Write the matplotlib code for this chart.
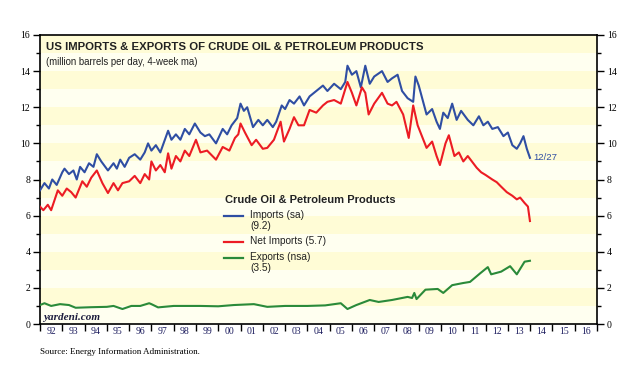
import matplotlib
matplotlib.use("Agg")
import matplotlib.pyplot as plt
import numpy as np

# weekly series (decimal year, million barrels per day)
imports_t = [1992.0, 1992.2, 1992.4, 1992.55, 1992.75, 1993.0, 1993.1, 1993.3, 1993.5, 1993.65,
             1993.8, 1994.0, 1994.2, 1994.4, 1994.55, 1994.75, 1995.05, 1995.3, 1995.45, 1995.6,
             1995.8, 1996.0, 1996.25, 1996.5, 1996.7, 1996.85, 1997.0, 1997.2, 1997.4, 1997.75,
             1997.9, 1998.1, 1998.3, 1998.5, 1998.7, 1998.95, 1999.2, 1999.4, 1999.6, 1999.9,
             2000.2, 2000.4, 2000.6, 2000.85, 2001.0, 2001.15, 2001.3, 2001.56, 2001.8, 2002.0,
             2002.2, 2002.45, 2002.6, 2002.85, 2003.0, 2003.2, 2003.4, 2003.65, 2003.85, 2004.1,
             2004.4, 2004.7, 2004.9, 2005.2, 2005.5, 2005.7, 2005.8, 2006.0, 2006.2, 2006.4,
             2006.6, 2006.8, 2007.0, 2007.35, 2007.6, 2007.8, 2008.05, 2008.25, 2008.5, 2008.75,
             2008.85, 2009.0, 2009.35, 2009.6, 2009.8, 2009.95, 2010.1, 2010.3, 2010.5, 2010.7,
             2010.9, 2011.2, 2011.45, 2011.7, 2011.9, 2012.1, 2012.3, 2012.55, 2012.8, 2013.0,
             2013.2, 2013.4, 2013.55, 2013.7, 2013.85, 2013.99]
imports_v = [7.4, 7.8, 7.5, 8.0, 7.7, 8.4, 8.6, 8.3, 8.5, 8.0,
             8.7, 8.4, 8.9, 8.7, 9.4, 9.0, 8.5, 8.9, 8.6, 9.1,
             8.7, 9.2, 9.4, 9.1, 9.5, 10.0, 9.6, 9.9, 9.5, 10.7,
             10.2, 10.5, 10.2, 10.8, 10.5, 11.1, 10.6, 10.4, 10.5, 10.0,
             10.8, 10.5, 11.0, 11.4, 12.2, 11.8, 12.0, 10.9, 11.3, 11.0,
             11.3, 10.9, 11.2, 12.1, 11.9, 12.4, 12.2, 12.6, 12.1, 12.6,
             12.9, 13.2, 12.9, 13.3, 13.0, 13.4, 14.3, 13.8, 14.0, 13.1,
             14.3, 13.3, 13.7, 14.0, 13.4, 13.6, 13.8, 12.9, 12.5, 12.3,
             13.7, 13.2, 11.6, 11.9, 11.2, 10.8, 11.7, 11.4, 12.2, 11.3,
             11.8, 11.3, 11.0, 11.5, 11.0, 11.2, 10.8, 10.9, 10.4, 10.6,
             9.9, 9.7, 10.0, 10.4, 9.7, 9.2]

net_t = [1992.0, 1992.15, 1992.35, 1992.5, 1992.8, 1993.0, 1993.2, 1993.4, 1993.6, 1993.9,
         1994.1, 1994.3, 1994.55, 1994.8, 1995.05, 1995.3, 1995.5, 1995.7, 1996.0, 1996.25,
         1996.5, 1996.7, 1996.9, 1997.0, 1997.2, 1997.4, 1997.6, 1997.75, 1997.9, 1998.1,
         1998.3, 1998.5, 1998.7, 1999.0, 1999.2, 1999.5, 1999.9, 2000.2, 2000.5, 2000.75,
         2000.9, 2001.0, 2001.2, 2001.5, 2001.7, 2002.0, 2002.2, 2002.5, 2002.8, 2002.95,
         2003.2, 2003.4, 2003.6, 2003.85, 2004.1, 2004.4, 2004.7, 2004.9, 2005.2, 2005.5,
         2005.8, 2006.0, 2006.2, 2006.45, 2006.6, 2006.75, 2007.0, 2007.35, 2007.6, 2007.8,
         2008.0, 2008.3, 2008.55, 2008.75, 2008.95, 2009.35, 2009.6, 2009.8, 2009.95, 2010.2,
         2010.35, 2010.6, 2010.8, 2011.0, 2011.2, 2011.6, 2011.8, 2012.0, 2012.3, 2012.5,
         2012.7, 2012.95, 2013.2, 2013.4, 2013.55, 2013.75, 2013.9, 2013.99]
net_v = [6.5, 6.3, 6.6, 6.3, 7.4, 7.1, 7.5, 7.3, 7.0, 7.9,
         7.6, 8.1, 8.5, 7.8, 7.25, 7.8, 7.4, 7.8, 7.9, 8.2,
         7.8, 8.3, 8.0, 9.0, 8.5, 8.8, 8.4, 9.45, 8.6, 9.3,
         9.0, 9.6, 9.3, 10.2, 9.5, 9.6, 9.1, 9.8, 9.6, 10.3,
         10.5, 11.1, 10.6, 9.9, 10.2, 9.7, 9.75, 10.2, 11.2, 10.1,
         10.8, 11.45, 11.0, 11.0, 11.85, 11.7, 12.1, 12.3, 12.4, 12.2,
         13.4, 12.8, 12.1, 13.1, 12.8, 11.6, 12.2, 12.8, 12.2, 12.1,
         12.3, 11.6, 10.3, 12.1, 11.0, 9.75, 10.1, 9.3, 8.8, 10.0,
         10.45, 9.3, 9.5, 9.0, 9.3, 8.65, 8.4, 8.25, 8.0, 7.85,
         7.6, 7.3, 7.1, 6.9, 7.0, 6.7, 6.5, 5.7]

exports_t = [1992.0, 1992.2, 1992.5, 1992.9, 1993.3, 1993.6, 1994.3, 1995.0, 1995.3, 1995.7,
             1996.1, 1996.5, 1996.9, 1997.0, 1997.3, 1998.0, 1999.2, 2000.0, 2000.7, 2001.6,
             2002.2, 2003.0, 2004.0, 2004.8, 2005.5, 2005.8, 2006.2, 2006.8, 2007.2, 2007.8,
             2008.5, 2008.7, 2008.8, 2008.9, 2009.3, 2009.85, 2010.1, 2010.5, 2011.0, 2011.3,
             2011.75, 2012.1, 2012.25, 2012.7, 2013.1, 2013.4, 2013.75, 2013.99]
exports_v = [1.05, 1.15, 1.0, 1.1, 1.05, 0.9, 0.93, 0.95, 1.0, 0.83,
             1.0, 1.0, 1.15, 1.1, 0.92, 1.0, 1.0, 0.98, 1.05, 1.1,
             0.95, 1.0, 1.0, 1.03, 1.15, 0.83, 1.05, 1.33, 1.22, 1.33,
             1.5, 1.44, 1.72, 1.38, 1.9, 1.94, 1.72, 2.15, 2.27, 2.33,
             2.8, 3.15, 2.75, 2.9, 3.2, 2.75, 3.45, 3.5]

years = list(range(1992, 2017))
year_labels = ["%02d" % (y % 100) for y in years]

BLUE = "#2f4ea3"
RED = "#ec1c24"
GREEN = "#2a8a3a"
serif = "Liberation Serif"
sans = "Liberation Sans"

fig = plt.figure(figsize=(6.29, 3.73), dpi=100)
ax = fig.add_axes([40 / 629, 49 / 373, 557 / 629, 289 / 373])

# pale striped background
for lo in range(16):
    ax.axhspan(lo, lo + 1, color="#fffcd6" if lo % 2 else "#fffff0", lw=0, zorder=0)

ax.plot(imports_t, imports_v, color=BLUE, lw=1.5, zorder=3)
ax.plot(net_t, net_v, color=RED, lw=1.5, zorder=3)
ax.plot(exports_t, exports_v, color=GREEN, lw=1.5, zorder=3)

ax.set_xlim(1992, 2017)
ax.set_ylim(0, 16)

ax.set_xticks(years + [2017])
ax.set_xticklabels([])
ax.set_xticks([y + 0.5 for y in years], minor=True)
ax.set_xticklabels(year_labels, minor=True, fontsize=7, family=serif, color="#1c1c5e")
ax.tick_params(axis="x", which="major", direction="out", length=5, width=1, color="black")
ax.tick_params(axis="x", which="minor", length=0, pad=2)

ax.set_yticks(range(0, 17, 2))
ax.set_yticks(range(1, 16, 2), minor=True)
ax.tick_params(axis="y", which="both", direction="out", left=True, right=True,
               labelleft=True, labelright=True, width=1, labelsize=7, pad=2)
ax.tick_params(axis="y", which="major", length=5)
ax.tick_params(axis="y", which="minor", length=3)
for lab in ax.get_yticklabels():
    lab.set_family(serif)

for s in ax.spines.values():
    s.set_linewidth(1.2)

ax.text(0.01, 0.977, "US IMPORTS & EXPORTS OF CRUDE OIL & PETROLEUM PRODUCTS",
        transform=ax.transAxes, fontsize=8.2, fontweight="bold", family=sans,
        va="top", ha="left", color="#222222")
ax.text(0.01, 0.925, "(million barrels per day, 4-week ma)", transform=ax.transAxes,
        fontsize=6.9, family=sans, va="top", ha="left", color="#222222")

# legend block
lx0, lx1, tx = 224, 243, 250
def px(x, y):
    return ((x - 40) / 557, (324 - y) / 289)

ax.text(*px(225, 200), "Crude Oil & Petroleum Products", transform=ax.transAxes,
        fontsize=8, fontweight="bold", family=sans, va="center", ha="left", color="#222222")
entries = [(BLUE, 216, "Imports (sa)\n(9.2)"), (RED, 242, "Net Imports (5.7)"),
           (GREEN, 258, "Exports (nsa)\n(3.5)")]
for c, yy, lab in entries:
    a, b = px(lx0, yy)
    a2, _ = px(lx1, yy)
    ax.plot([a, a2], [b, b], transform=ax.transAxes, color=c, lw=1.6, zorder=4)
    ax.text(px(tx, yy)[0], b + 0.022, lab, transform=ax.transAxes, fontsize=7.3,
            family=sans, va="top", ha="left", color="#222222", linespacing=1.15)

ax.text(*px(533, 158), "12/27", transform=ax.transAxes, fontsize=6.8, family=sans,
        color=BLUE, va="center", ha="left")
ax.text(*px(43, 317), "yardeni.com", transform=ax.transAxes, fontsize=8,
        family=serif, style="italic", fontweight="bold", color="#1c1c3e",
        va="center", ha="left")

fig.text(40 / 629, 1 - 352 / 373, "Source: Energy Information Administration.",
         fontsize=6.5, family=serif, va="center", ha="left")

fig.savefig("out.png", dpi=100, facecolor="white")
